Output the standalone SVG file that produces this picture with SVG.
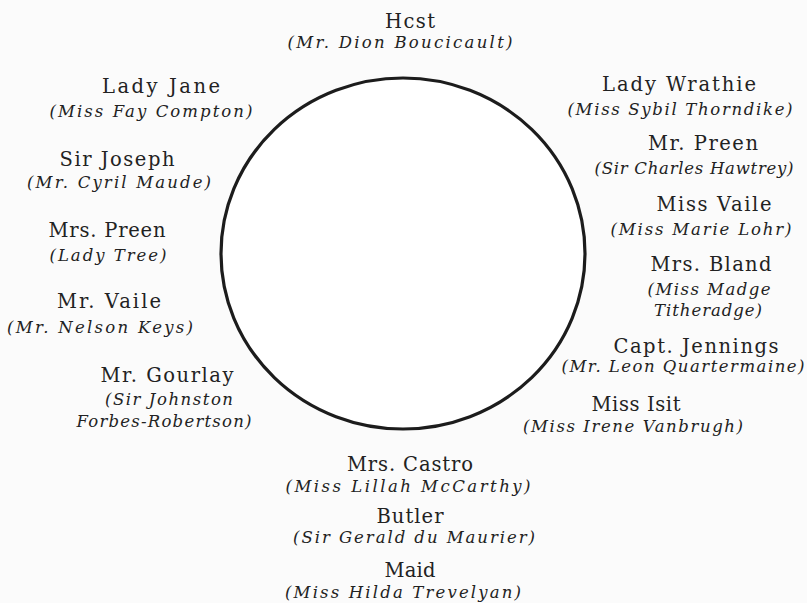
<svg xmlns="http://www.w3.org/2000/svg" width="807" height="603" viewBox="0 0 807 603">
<style>
text{fill:#222222;text-anchor:middle}
.r{font-size:19.5px}
.i{font-size:16.5px;font-style:italic}
</style>
<rect width="807" height="603" fill="#fbfbfb"/>
<g id="table"><ellipse cx="403" cy="253.5" rx="182" ry="175.5" fill="#ffffff" stroke="#1c1c1c" stroke-width="3.2"/></g>
<g font-family="'DejaVu Serif', 'Liberation Serif', serif">
<g id="host"><text class="r" x="410" y="28" textLength="50" lengthAdjust="spacing">Hcst</text><text class="i" x="400" y="48" textLength="225" lengthAdjust="spacing">(Mr. Dion Boucicault)</text></g>
<g id="lady-jane"><text class="r" x="161" y="93" textLength="118" lengthAdjust="spacing">Lady Jane</text><text class="i" x="151" y="117" textLength="203" lengthAdjust="spacing">(Miss Fay Compton)</text></g>
<g id="sir-joseph"><text class="r" x="117" y="166" textLength="115" lengthAdjust="spacing">Sir Joseph</text><text class="i" x="119" y="188" textLength="184" lengthAdjust="spacing">(Mr. Cyril Maude)</text></g>
<g id="mrs-preen"><text class="r" x="107" y="237" textLength="117" lengthAdjust="spacing">Mrs. Preen</text><text class="i" x="108" y="261" textLength="117" lengthAdjust="spacing">(Lady Tree)</text></g>
<g id="mr-vaile"><text class="r" x="109" y="308" textLength="104" lengthAdjust="spacing">Mr. Vaile</text><text class="i" x="100" y="333" textLength="186" lengthAdjust="spacing">(Mr. Nelson Keys)</text></g>
<g id="mr-gourlay"><text class="r" x="167" y="382" textLength="133" lengthAdjust="spacing">Mr. Gourlay</text><text class="i" x="169" y="405" textLength="128" lengthAdjust="spacing">(Sir Johnston</text><text class="i" x="164" y="427" textLength="175" lengthAdjust="spacing">Forbes-Robertson)</text></g>
<g id="lady-wrathie"><text class="r" x="679" y="91" textLength="154" lengthAdjust="spacing">Lady Wrathie</text><text class="i" x="680" y="115" textLength="225" lengthAdjust="spacing">(Miss Sybil Thorndike)</text></g>
<g id="mr-preen"><text class="r" x="703" y="150" textLength="110" lengthAdjust="spacing">Mr. Preen</text><text class="i" x="694" y="174" textLength="199" lengthAdjust="spacing">(Sir Charles Hawtrey)</text></g>
<g id="miss-vaile"><text class="r" x="714" y="211" textLength="115" lengthAdjust="spacing">Miss Vaile</text><text class="i" x="701" y="235" textLength="181" lengthAdjust="spacing">(Miss Marie Lohr)</text></g>
<g id="mrs-bland"><text class="r" x="711" y="271" textLength="121" lengthAdjust="spacing">Mrs. Bland</text><text class="i" x="709" y="295" textLength="123" lengthAdjust="spacing">(Miss Madge</text><text class="i" x="708" y="316" textLength="108" lengthAdjust="spacing">Titheradge)</text></g>
<g id="capt-jennings"><text class="r" x="696" y="353" textLength="165" lengthAdjust="spacing">Capt. Jennings</text><text class="i" x="683" y="372" textLength="243" lengthAdjust="spacing">(Mr. Leon Quartermaine)</text></g>
<g id="miss-isit"><text class="r" x="636" y="411" textLength="89" lengthAdjust="spacing">Miss Isit</text><text class="i" x="633" y="432" textLength="220" lengthAdjust="spacing">(Miss Irene Vanbrugh)</text></g>
<g id="mrs-castro"><text class="r" x="410" y="471" textLength="126" lengthAdjust="spacing">Mrs. Castro</text><text class="i" x="408" y="492" textLength="245" lengthAdjust="spacing">(Miss Lillah McCarthy)</text></g>
<g id="butler"><text class="r" x="410" y="523" textLength="67" lengthAdjust="spacing">Butler</text><text class="i" x="414" y="543" textLength="242" lengthAdjust="spacing">(Sir Gerald du Maurier)</text></g>
<g id="maid"><text class="r" x="410" y="577" textLength="51" lengthAdjust="spacing">Maid</text><text class="i" x="403" y="598" textLength="236" lengthAdjust="spacing">(Miss Hilda Trevelyan)</text></g>
</g>
<g id="connectors"/>
</svg>
